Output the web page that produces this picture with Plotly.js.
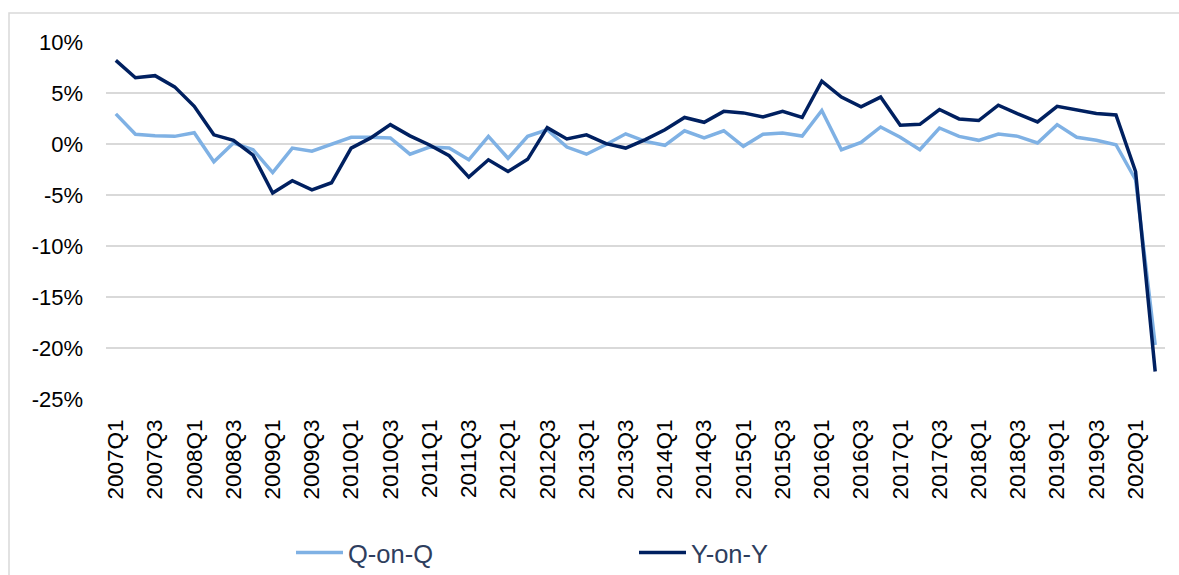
<!DOCTYPE html>
<html>
<head>
<meta charset="utf-8">
<script src="https://cdn.plot.ly/plotly-3.0.1.min.js"></script>
<style>
  html, body { margin: 0; padding: 0; background: #ffffff; }
  #chart { width: 1179px; height: 575px; }
</style>
</head>
<body>
<div id="chart"></div>
<script>
// Quarters 2007Q1 .. 2020Q2
const quarters = [
  "2007Q1","2007Q2","2007Q3","2007Q4",
  "2008Q1","2008Q2","2008Q3","2008Q4",
  "2009Q1","2009Q2","2009Q3","2009Q4",
  "2010Q1","2010Q2","2010Q3","2010Q4",
  "2011Q1","2011Q2","2011Q3","2011Q4",
  "2012Q1","2012Q2","2012Q3","2012Q4",
  "2013Q1","2013Q2","2013Q3","2013Q4",
  "2014Q1","2014Q2","2014Q3","2014Q4",
  "2015Q1","2015Q2","2015Q3","2015Q4",
  "2016Q1","2016Q2","2016Q3","2016Q4",
  "2017Q1","2017Q2","2017Q3","2017Q4",
  "2018Q1","2018Q2","2018Q3","2018Q4",
  "2019Q1","2019Q2","2019Q3","2019Q4",
  "2020Q1","2020Q2"
];

// Quarter-on-quarter growth, %
const qOnQ = [
  2.95, 0.95, 0.82, 0.75,
  1.1, -1.74, 0.1, -0.56,
  -2.8, -0.4, -0.7, 0.0,
  0.65, 0.65, 0.6, -1.0,
  -0.3, -0.4, -1.55, 0.75,
  -1.4, 0.75, 1.4, -0.3,
  -1.0, -0.05, 1.0, 0.26,
  -0.13, 1.3, 0.6, 1.3,
  -0.23, 0.95, 1.08, 0.78,
  3.28, -0.56, 0.16, 1.67,
  0.66, -0.56, 1.57, 0.75,
  0.36, 0.98, 0.75, 0.1,
  1.9, 0.66, 0.36, -0.07,
  -3.5, -19.7
];

// Year-on-year growth, %
const yOnY = [
  8.2, 6.5, 6.7, 5.6,
  3.7, 0.9, 0.36, -1.1,
  -4.8, -3.6, -4.5, -3.8,
  -0.4, 0.6, 1.9, 0.8,
  -0.1, -1.15, -3.25, -1.55,
  -2.7, -1.5, 1.6, 0.5,
  0.9, 0.03, -0.4, 0.43,
  1.4, 2.6, 2.13, 3.2,
  3.05, 2.65, 3.2, 2.6,
  6.16, 4.6, 3.64, 4.6,
  1.84, 1.93, 3.38, 2.46,
  2.3, 3.8, 2.95, 2.16,
  3.7, 3.38, 3.0, 2.85,
  -2.7, -22.3
];

const seriesNames = ["Q-on-Q", "Y-on-Y"];

const yTickValues = [-25, -20, -15, -10, -5, 0, 5, 10];
const yTickLabels = ["-25%", "-20%", "-15%", "-10%", "-5%", "0%", "5%", "10%"];

// every other quarter labelled (Q1 and Q3)
const xTickQuarters = quarters.filter((q, i) => i % 2 === 0);

const FONT = "Liberation Sans, Arial, sans-serif";

const traces = [
  {
    x: quarters, y: qOnQ, name: seriesNames[0],
    type: "scatter", mode: "lines",
    line: { color: "#7FB1E4", width: 3.5 },
    hoverinfo: "x+y+name"
  },
  {
    x: quarters, y: yOnY, name: seriesNames[1],
    type: "scatter", mode: "lines",
    line: { color: "#002060", width: 3.5 },
    hoverinfo: "x+y+name"
  }
];

const layout = {
  width: 1179,
  height: 575,
  margin: { l: 106, r: 14, t: 42, b: 176, autoexpand: false },
  paper_bgcolor: "#ffffff",
  plot_bgcolor: "#ffffff",
  font: { family: FONT, size: 22, color: "#000000" },
  showlegend: true,
  xaxis: {
    type: "category",
    categoryorder: "array",
    categoryarray: quarters,
    range: [-0.5, quarters.length - 0.5],
    tickmode: "array",
    tickvals: xTickQuarters,
    ticktext: xTickQuarters,
    tickangle: -90,
    tickfont: { family: FONT, size: 22.5, color: "#000000" },
    ticks: "",
    showgrid: false,
    zeroline: false,
    showline: false,
    automargin: false,
    ticklabelstandoff: 15,
    fixedrange: true
  },
  yaxis: {
    range: [-25, 10],
    tickmode: "array",
    tickvals: yTickValues,
    ticktext: yTickLabels,
    tickfont: { family: FONT, size: 22, color: "#000000" },
    ticks: "",
    showgrid: true,
    gridcolor: "#D9D9D9",
    gridwidth: 1.5,
    zeroline: false,
    showline: false,
    automargin: false,
    ticklabelstandoff: 22,
    fixedrange: true
  },
  legend: {
    orientation: "h",
    xref: "container",
    yref: "container",
    x: 291 / 1179,
    xanchor: "left",
    y: (575 - 553) / 575,
    yanchor: "middle",
    entrywidth: 281,
    entrywidthmode: "pixels",
    font: { family: FONT, size: 25.5, color: "#2E3E5E" },
    bgcolor: "rgba(0,0,0,0)",
    itemwidth: 47
  },
  shapes: [
    {
      type: "rect",
      xref: "paper", yref: "paper",
      x0: (9 - 106) / 1059, x1: 1.2,
      y0: -0.8, y1: (399 - 13) / 357,
      line: { color: "#D9D9D9", width: 1.5 },
      fillcolor: "rgba(0,0,0,0)",
      layer: "below"
    }
  ]
};

Plotly.newPlot("chart", traces, layout, { displayModeBar: false, staticPlot: true });
</script>
</body>
</html>
